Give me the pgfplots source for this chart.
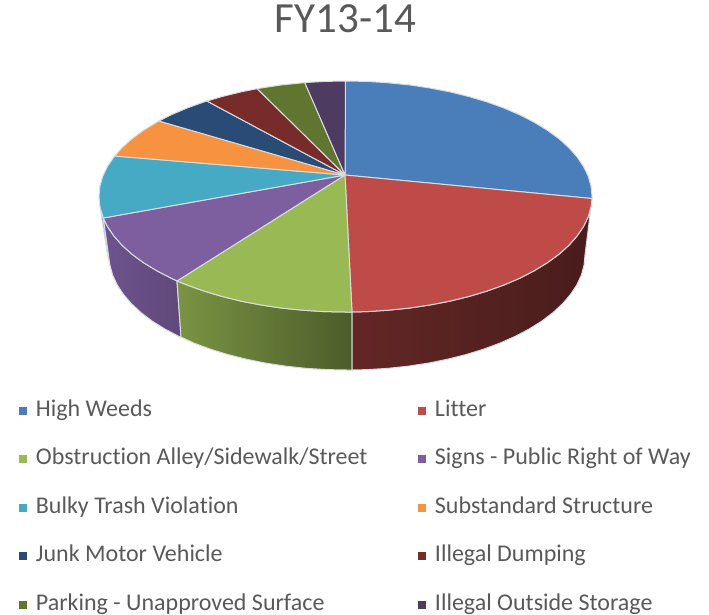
\documentclass[border=0pt]{standalone}
\usepackage{fontspec}
\setmainfont{Carlito}[Ligatures=NoCommon]
\usepackage{pgfplots}
\pgfplotsset{compat=1.18}

\definecolor{cHigh}{HTML}{4A7EBB}
\definecolor{cLitter}{HTML}{BE4B48}
\definecolor{cObstr}{HTML}{98B954}
\definecolor{cSigns}{HTML}{7D5FA0}
\definecolor{cBulky}{HTML}{46AAC5}
\definecolor{cSubst}{HTML}{F69240}
\definecolor{cJunk}{HTML}{2A4B75}
\definecolor{cDump}{HTML}{772C2A}
\definecolor{cPark}{HTML}{5F7530}
\definecolor{cStore}{HTML}{4D3B62}
\definecolor{rim}{HTML}{D9DDE0}
\definecolor{txt}{HTML}{595959}

\begin{document}
\begin{tikzpicture}
\useasboundingbox (0,0) rectangle (709pt,614pt);
\begin{axis}[
    scale only axis,
    width=709pt, height=614pt,
    xmin=0, xmax=709, ymin=0, ymax=614,
    y dir=reverse,
    hide axis,
    title={\fontsize{43}{48}\selectfont FY13-14},
    title style={at={(axis cs:345.5,24.5)}, anchor=center, text=txt},
    legend columns=2,
    legend cell align=left,
    legend image code/.code={\path[#1,draw=none] (0pt,-4.2pt) rectangle (8.4pt,4.2pt);},
    legend style={
        at={(axis cs:19,399)}, anchor=north west,
        draw=none, fill=none, inner sep=0pt, outer sep=0pt,
        text=txt,
        font=\fontsize{24}{28}\selectfont,
        row sep=25pt,
        nodes={text height=17pt, text depth=6.5pt, inner xsep=8.5pt, inner ysep=0pt},
        /tikz/every even column/.append style={column sep=42pt},
    },
]
% side walls, lower ellipse
\addplot[forget plot, fill=cBulky, draw=rim, line width=0.8pt] coordinates {
    (100,206.6) (103.3,218) (109.9,265) (107.5,255) (100,206.6)
};
\addplot[forget plot, draw=rim, line width=1pt, left color=cSigns!88!black, right color=cSigns!76!black] coordinates {
    (103.3,218) (107.4,226.4) (113.9,236) (122.1,245.3) (132,254.25) (143.6,262.7) (156.7,270.7) (171.2,278.2) (177,281)
    (181,337) (178.7,336.3) (164.7,328.9) (152,321) (140.9,312.5) (131.3,303.6) (123.4,294.3) (117.1,284.8) (112.6,275) (109.9,265) (103.3,218)
};
\addplot[forget plot, draw=rim, line width=1pt, left color=cObstr!80!black, right color=cObstr!50!black] coordinates {
    (177,281) (187.1,285) (204.1,291.1) (222.25,296.5) (241.3,301.2) (261.2,305) (281.7,308.1) (302.7,310.2) (324,311.6) (345.5,312) (352,312)
    (352,370) (347,370) (326.3,369.6) (305.7,368.3) (285.4,366.1) (265.6,363.1) (246.4,359.2) (228,354.6) (210.5,349.2) (194,343.1) (181,337) (177,281)
};
\addplot[forget plot, draw=rim, line width=1pt, left color=cLitter!52!black, middle color=cLitter!38!black, right color=cLitter!38!black] coordinates {
    (592,198.5) (591.1,206.6) (588.3,216.6) (583.6,226.4) (577.1,236) (568.9,245.3) (559,254.25) (547.4,262.7) (534.3,270.7) (519.8,278.2) (503.9,285) (486.9,291.1) (468.8,296.5) (449.7,301.2) (429.8,305) (409.3,308.1) (388.3,310.2) (367,311.6) (352,312)
    (352,370) (367.7,369.6) (388.3,368.3) (408.6,366.1) (428.4,363.1) (447.6,359.2) (466,354.6) (483.5,349.2) (500,343.1) (515.3,336.3) (529.3,328.9) (542,321) (553.1,312.5) (562.7,303.6) (570.6,294.3) (576.9,284.8) (581.4,275) (584.1,265) (585,255) (592,198.5)
};
% top faces
\addplot[fill=cHigh, draw=rim, line width=1pt] coordinates {
    (345,175) (345.5,81) (367,81.4) (388.3,82.8) (409.3,84.9) (429.8,88) (449.7,91.8) (468.8,96.5) (486.9,101.9) (503.9,108) (519.8,114.8) (534.3,122.3) (547.4,130.3) (559,138.75) (568.9,147.7) (577.1,157) (583.6,166.6) (588.3,176.4) (591.1,186.4) (592,196.5) (592,198.5) (345,175)
};
\addlegendentry{High Weeds}
\addplot[fill=cLitter, draw=rim, line width=1pt] coordinates {
    (345,175) (592,198.5) (591.1,206.6) (588.3,216.6) (583.6,226.4) (577.1,236) (568.9,245.3) (559,254.25) (547.4,262.7) (534.3,270.7) (519.8,278.2) (503.9,285) (486.9,291.1) (468.8,296.5) (449.7,301.2) (429.8,305) (409.3,308.1) (388.3,310.2) (367,311.6) (352,312) (345,175)
};
\addlegendentry{Litter}
\addplot[fill=cObstr, draw=rim, line width=1pt] coordinates {
    (345,175) (352,312) (345.5,312) (324,311.6) (302.7,310.2) (281.7,308.1) (261.2,305) (241.3,301.2) (222.25,296.5) (204.1,291.1) (187.1,285) (177,281) (345,175)
};
\addlegendentry{Obstruction Alley/Sidewalk/Street}
\addplot[fill=cSigns, draw=rim, line width=1pt] coordinates {
    (345,175) (177,281) (171.2,278.2) (156.7,270.7) (143.6,262.7) (132,254.25) (122.1,245.3) (113.9,236) (107.4,226.4) (103.3,218) (345,175)
};
\addlegendentry{Signs - Public Right of Way}
\addplot[fill=cBulky, draw=rim, line width=1pt] coordinates {
    (345,175) (103.3,218) (99.9,206.6) (99,196.5) (99.9,186.4) (102.7,176.4) (107.4,166.6) (113.9,157) (114.6,156) (345,175)
};
\addlegendentry{Bulky Trash Violation}
\addplot[fill=cSubst, draw=rim, line width=1pt] coordinates {
    (345,175) (114.6,156) (122.1,147.7) (132,138.75) (143.6,130.3) (156.7,122.3) (158.9,121) (345,175)
};
\addlegendentry{Substandard Structure}
\addplot[fill=cJunk, draw=rim, line width=1pt] coordinates {
    (345,175) (158.9,121) (171.2,114.8) (187.1,108) (204.1,101.9) (206.9,101) (345,175)
};
\addlegendentry{Junk Motor Vehicle}
\addplot[fill=cDump, draw=rim, line width=1pt] coordinates {
    (345,175) (206.9,101) (222.25,96.5) (241.3,91.8) (257.2,88.7) (345,175)
};
\addlegendentry{Illegal Dumping}
\addplot[fill=cPark, draw=rim, line width=1pt] coordinates {
    (345,175) (257.2,88.7) (261.2,88) (281.7,84.9) (302.7,82.8) (304.8,82.6) (345,175)
};
\addlegendentry{Parking - Unapproved Surface}
\addplot[fill=cStore, draw=rim, line width=1pt] coordinates {
    (345,175) (304.8,82.6) (324,81.4) (345.5,81) (345,175)
};
\addlegendentry{Illegal Outside Storage}
\end{axis}
\end{tikzpicture}
\end{document}
